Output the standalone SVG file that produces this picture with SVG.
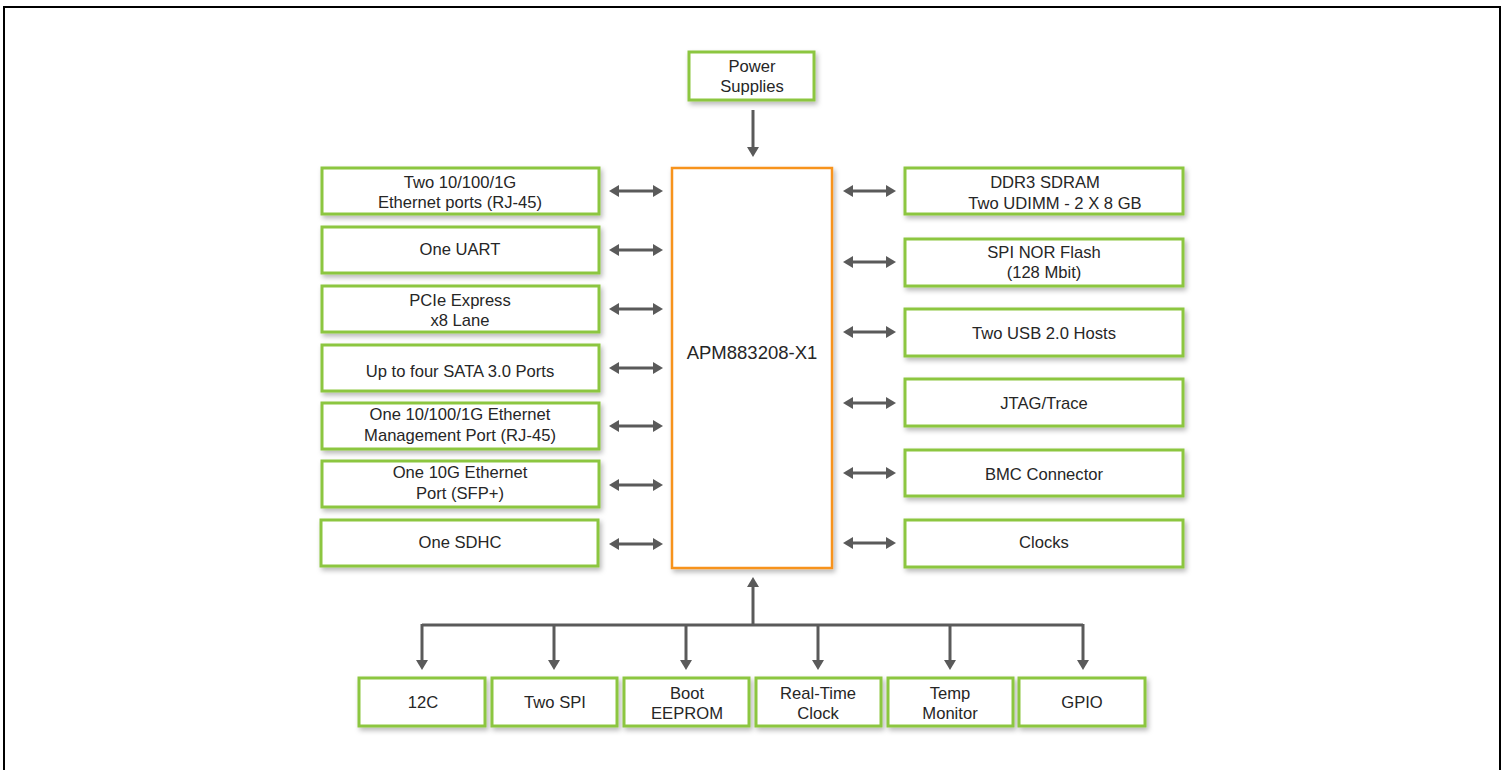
<svg xmlns="http://www.w3.org/2000/svg" width="1505" height="770" viewBox="0 0 1505 770">
<style>
.box{fill:#fff;stroke:#8cc63f;stroke-width:3;filter:url(#sh)}
.cpu{fill:#fff;stroke:#f7931e;stroke-width:2.5;filter:url(#sh)}
.t{font-family:"Liberation Sans",Arial,sans-serif;font-size:16.6px;fill:#262626;text-anchor:middle}
.big{font-size:18.5px}
.c{stroke:#5a5a5a;stroke-width:3;fill:none}
.bi{marker-start:url(#ah);marker-end:url(#ah)}
.one{marker-end:url(#ah)}
</style>
<defs>
<filter id="sh" x="-10%" y="-10%" width="125%" height="140%">
<feDropShadow dx="2" dy="3" stdDeviation="2.5" flood-color="#000" flood-opacity="0.28"/>
</filter>
<marker id="ah" viewBox="0 0 10 12" refX="2" refY="6" markerWidth="10" markerHeight="13" markerUnits="userSpaceOnUse" orient="auto-start-reverse">
<path d="M0,0 L10,6 L0,12 z" fill="#5a5a5a"/>
</marker>
</defs>
<rect x="4" y="7" width="1496" height="780" fill="none" stroke="#000" stroke-width="2"/>

<g id="connectors">
<line class="c one" x1="753" y1="110" x2="753" y2="149"/>
<line class="c bi" x1="617" y1="191" x2="655" y2="191"/>
<line class="c bi" x1="617" y1="250" x2="655" y2="250"/>
<line class="c bi" x1="617" y1="309" x2="655" y2="309"/>
<line class="c bi" x1="617" y1="368" x2="655" y2="368"/>
<line class="c bi" x1="617" y1="426" x2="655" y2="426"/>
<line class="c bi" x1="617" y1="485" x2="655" y2="485"/>
<line class="c bi" x1="617" y1="544" x2="655" y2="544"/>
<line class="c bi" x1="851" y1="191" x2="888" y2="191"/>
<line class="c bi" x1="851" y1="262" x2="888" y2="262"/>
<line class="c bi" x1="851" y1="332" x2="888" y2="332"/>
<line class="c bi" x1="851" y1="403" x2="888" y2="403"/>
<line class="c bi" x1="851" y1="473" x2="888" y2="473"/>
<line class="c bi" x1="851" y1="543" x2="888" y2="543"/>
<line class="c one" x1="753" y1="626" x2="753" y2="585"/>
<path class="c" d="M422,625 H1083"/>
<line class="c one" x1="422" y1="624" x2="422" y2="662"/>
<line class="c one" x1="554" y1="624" x2="554" y2="662"/>
<line class="c one" x1="686" y1="624" x2="686" y2="662"/>
<line class="c one" x1="818" y1="624" x2="818" y2="662"/>
<line class="c one" x1="950" y1="624" x2="950" y2="662"/>
<line class="c one" x1="1083" y1="624" x2="1083" y2="662"/>
</g>

<g id="power"><rect class="box" x="689" y="52" width="125" height="48"/><text class="t" x="752" y="72">Power</text><text class="t" x="752" y="92">Supplies</text></g>
<g id="cpu"><rect class="cpu" x="672" y="168" width="160" height="400"/><text class="t big" x="752" y="359">APM883208-X1</text></g>

<g id="eth2"><rect class="box" x="322" y="168" width="277" height="46"/><text class="t" x="460" y="188">Two 10/100/1G</text><text class="t" x="460" y="208">Ethernet ports (RJ-45)</text></g>
<g id="uart"><rect class="box" x="322" y="227" width="277" height="46"/><text class="t" x="460" y="255">One UART</text></g>
<g id="pcie"><rect class="box" x="322" y="286" width="277" height="46"/><text class="t" x="460" y="306">PCIe Express</text><text class="t" x="460" y="326">x8 Lane</text></g>
<g id="sata"><rect class="box" x="322" y="345" width="277" height="46"/><text class="t" x="460" y="377">Up to four SATA 3.0 Ports</text></g>
<g id="mgmt"><rect class="box" x="322" y="403" width="277" height="46"/><text class="t" x="460" y="420">One 10/100/1G Ethernet</text><text class="t" x="460" y="441">Management Port (RJ-45)</text></g>
<g id="eth10g"><rect class="box" x="322" y="461" width="277" height="46"/><text class="t" x="460" y="478">One 10G Ethernet</text><text class="t" x="460" y="499">Port (SFP+)</text></g>
<g id="sdhc"><rect class="box" x="321" y="520" width="277" height="46"/><text class="t" x="460" y="548">One SDHC</text></g>

<g id="ddr3"><rect class="box" x="905" y="168" width="278" height="46"/><text class="t" x="1045" y="188">DDR3 SDRAM</text><text class="t" x="1055" y="209">Two UDIMM - 2 X 8 GB</text></g>
<g id="spinor"><rect class="box" x="905" y="239" width="278" height="47"/><text class="t" x="1044" y="258">SPI NOR Flash</text><text class="t" x="1044" y="278">(128 Mbit)</text></g>
<g id="usb"><rect class="box" x="905" y="309" width="278" height="47"/><text class="t" x="1044" y="339">Two USB 2.0 Hosts</text></g>
<g id="jtag"><rect class="box" x="905" y="379" width="278" height="47"/><text class="t" x="1044" y="409">JTAG/Trace</text></g>
<g id="bmc"><rect class="box" x="905" y="450" width="278" height="46"/><text class="t" x="1044" y="480">BMC Connector</text></g>
<g id="clocks"><rect class="box" x="905" y="520" width="278" height="47"/><text class="t" x="1044" y="548">Clocks</text></g>

<g id="i2c"><rect class="box" x="359" y="678" width="126" height="48"/><text class="t" x="423" y="708">12C</text></g>
<g id="spi"><rect class="box" x="492" y="678" width="125" height="48"/><text class="t" x="555" y="708">Two SPI</text></g>
<g id="eeprom"><rect class="box" x="624" y="678" width="125" height="48"/><text class="t" x="687" y="699">Boot</text><text class="t" x="687" y="719">EEPROM</text></g>
<g id="rtc"><rect class="box" x="756" y="678" width="125" height="48"/><text class="t" x="818" y="699">Real-Time</text><text class="t" x="818" y="719">Clock</text></g>
<g id="temp"><rect class="box" x="888" y="678" width="125" height="48"/><text class="t" x="950" y="699">Temp</text><text class="t" x="950" y="719">Monitor</text></g>
<g id="gpio"><rect class="box" x="1019" y="678" width="126" height="48"/><text class="t" x="1082" y="708">GPIO</text></g>
</svg>
